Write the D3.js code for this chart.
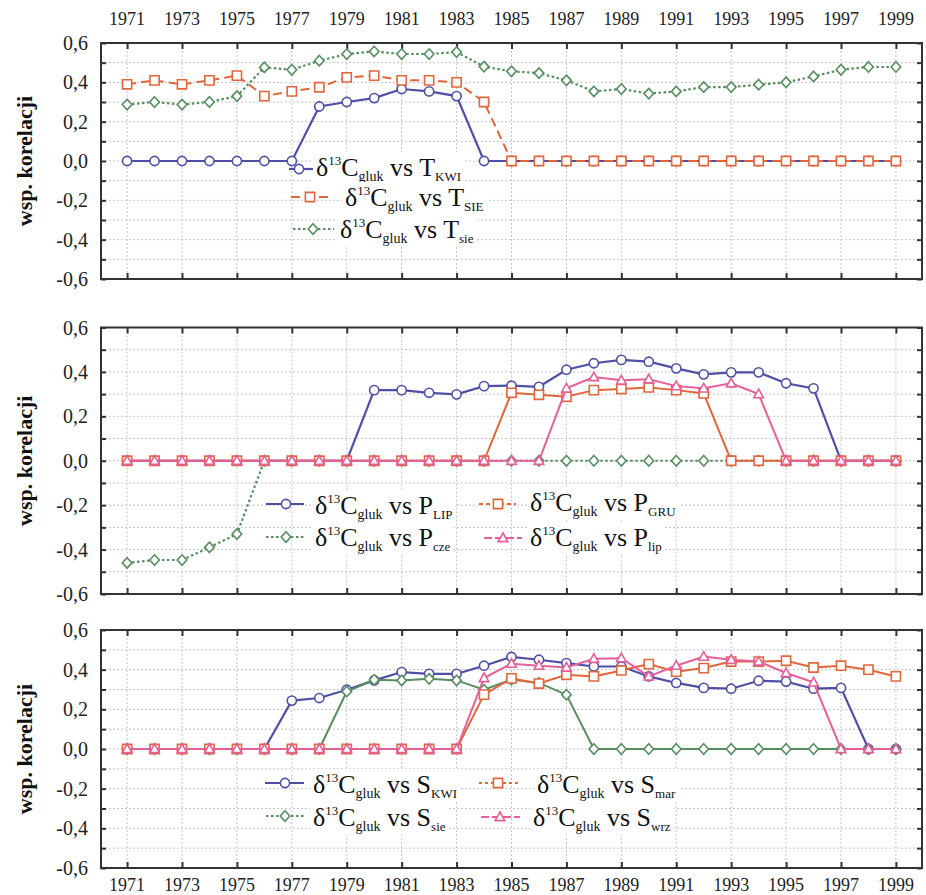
<!DOCTYPE html>
<html>
<head>
<meta charset="utf-8">
<script src="https://cdn.jsdelivr.net/npm/d3@7"></script>
<style>
  body { margin: 0; background: #fff; }
  svg text { font-family: "Liberation Serif", Tinos, "Times New Roman", "DejaVu Serif", serif; }
</style>
</head>
<body>
<svg id="chart" width="926" height="895"></svg>
<script>
// years on the x axis
var years = d3.range(1971, 2000);
var xTickYears = d3.range(1971, 2000, 2);
var yTicks = [-0.6, -0.4, -0.2, 0.0, 0.2, 0.4, 0.6];
var yGrid = d3.range(-6, 7).map(function (d) { return d / 10; });

// panel 1 - temperature
var tKWI = [0, 0, 0, 0, 0, 0, 0, 0.277, 0.30, 0.32, 0.366, 0.354, 0.33, 0,
  0, 0, 0, 0, 0, 0, 0, 0, 0, 0, 0, 0, 0, 0, 0];
var tSIE = [0.39, 0.41, 0.39, 0.41, 0.434, 0.33, 0.354, 0.375, 0.425, 0.434, 0.41, 0.41, 0.40, 0.30,
  0, 0, 0, 0, 0, 0, 0, 0, 0, 0, 0, 0, 0, 0, 0];
var tSie = [0.287, 0.30, 0.287, 0.30, 0.33, 0.476, 0.464, 0.51, 0.544, 0.557, 0.544, 0.544, 0.554, 0.48,
  0.456, 0.447, 0.41, 0.354, 0.366, 0.343, 0.354, 0.376, 0.376, 0.388, 0.40, 0.43, 0.464, 0.478, 0.478];

// panel 2 - precipitation
var pLIP = [0, 0, 0, 0, 0, 0, 0, 0, 0, 0.318, 0.318, 0.306, 0.299, 0.336,
  0.338, 0.333, 0.41, 0.439, 0.454, 0.446, 0.416, 0.389, 0.398, 0.398, 0.349, 0.326, 0, 0, 0];
var pCze = [-0.46, -0.447, -0.447, -0.39, -0.33, 0, 0, 0, 0, 0, 0, 0, 0, 0,
  0, 0, 0, 0, 0, 0, 0, 0, 0, 0, 0, 0, 0, 0, 0];
var pGRU = [0, 0, 0, 0, 0, 0, 0, 0, 0, 0, 0, 0, 0, 0,
  0.306, 0.297, 0.288, 0.318, 0.323, 0.33, 0.318, 0.303, 0, 0, 0, 0, 0, 0, 0];
var pLip = [0, 0, 0, 0, 0, 0, 0, 0, 0, 0, 0, 0, 0, 0,
  0, 0, 0.326, 0.377, 0.362, 0.367, 0.336, 0.326, 0.349, 0.30, 0, 0, 0, 0, 0];

// panel 3 - sunshine
var sKWI = [0, 0, 0, 0, 0, 0, 0.244, 0.257, 0.299, 0.346, 0.388, 0.379, 0.379, 0.42,
  0.464, 0.45, 0.433, 0.416, 0.416, 0.366, 0.333, 0.308, 0.304, 0.344, 0.34, 0.304, 0.308, 0, 0];
var sSie = [0, 0, 0, 0, 0, 0, 0, 0, 0.29, 0.349, 0.346, 0.354, 0.346, 0.299,
  0.35, 0.333, 0.274, 0, 0, 0, 0, 0, 0, 0, 0, 0, 0, 0, 0];
var sMar = [0, 0, 0, 0, 0, 0, 0, 0, 0, 0, 0, 0, 0, 0.274,
  0.356, 0.33, 0.374, 0.366, 0.396, 0.428, 0.39, 0.408, 0.441, 0.441, 0.445, 0.411, 0.42, 0.40, 0.366];
var sWrz = [0, 0, 0, 0, 0, 0, 0, 0, 0, 0, 0, 0, 0, 0.358,
  0.43, 0.42, 0.411, 0.455, 0.458, 0.366, 0.42, 0.466, 0.45, 0.441, 0.383, 0.336, 0, 0, 0];

var BLUE = "#4f4fa6", ORANGE = "#e2663c", GREEN = "#568e5f", PINK = "#e5609b";

var svg = d3.select("#chart");
var x = d3.scaleLinear().domain([1970.05, 1999.95]).range([101, 922]);

var panels = [
  { top: 43, bottom: 279, series: [
      { v: tKWI, c: BLUE, m: "circle", w: 2.2, dash: null },
      { v: tSie, c: GREEN, m: "diamond", w: 2.2, dash: "2.5,2.5" },
      { v: tSIE, c: ORANGE, m: "square", w: 2, dash: "9,5" }
    ],
    legend: [
      { s: 0, lx: [289, 313], mx: 299, my: 169, tx: 316, ty: 176, sym: "T", sub: "KWI" },
      { s: 2, lx: [291, 331], mx: 310, my: 197, tx: 345, ty: 206, sym: "T", sub: "SIE" },
      { s: 1, lx: [293, 334], mx: 313, my: 229, tx: 340, ty: 238, sym: "T", sub: "sie" }
    ] },
  { top: 327.5, bottom: 594, series: [
      { v: pLIP, c: BLUE, m: "circle", w: 2.2, dash: null },
      { v: pCze, c: GREEN, m: "diamond", w: 2.2, dash: "2.5,2.5" },
      { v: pGRU, c: ORANGE, m: "square", w: 2, dash: null },
      { v: pLip, c: PINK, m: "triangle", w: 2, dash: null }
    ],
    legend: [
      { s: 0, lx: [266, 304], mx: 286, my: 504, tx: 315, ty: 514, sym: "P", sub: "LIP" },
      { s: 1, lx: [266, 304], mx: 286, my: 537, tx: 315, ty: 546, sym: "P", sub: "cze" },
      { s: 2, lx: [479, 516], mx: 498, my: 504, tx: 530, ty: 511, sym: "P", sub: "GRU", ldash: "4,3" },
      { s: 3, lx: [484, 522], mx: 503, my: 538, tx: 530, ty: 546, sym: "P", sub: "lip", ldash: "8,3" }
    ] },
  { top: 630, bottom: 868, series: [
      { v: sKWI, c: BLUE, m: "circle", w: 2.2, dash: null },
      { v: sSie, c: GREEN, m: "diamond", w: 2, dash: null },
      { v: sMar, c: ORANGE, m: "square", w: 2, dash: null },
      { v: sWrz, c: PINK, m: "triangle", w: 2, dash: null }
    ],
    legend: [
      { s: 0, lx: [265, 304], mx: 285, my: 783, tx: 313, ty: 793, sym: "S", sub: "KWI" },
      { s: 1, lx: [266, 304], mx: 285, my: 816, tx: 313, ty: 826, sym: "S", sub: "sie", ldash: "2.5,2.5" },
      { s: 2, lx: [479, 518], mx: 498, my: 783, tx: 537, ty: 793, sym: "S", sub: "mar", ldash: "3,3" },
      { s: 3, lx: [481, 520], mx: 500, my: 817, tx: 533, ty: 826, sym: "S", sub: "wrz", ldash: "8,3" }
    ] }
];

function marker(g, type, cx, cy, color) {
  var p;
  if (type === "circle") {
    g.append("circle").attr("cx", cx).attr("cy", cy).attr("r", 4.6)
      .attr("fill", "#fff").attr("stroke", color).attr("stroke-width", 1.6);
    return;
  }
  if (type === "square") p = d3.path(), p.rect(cx - 4.6, cy - 4.6, 9.2, 9.2);
  if (type === "diamond") {
    p = d3.path();
    p.moveTo(cx, cy - 5.2); p.lineTo(cx + 4.8, cy); p.lineTo(cx, cy + 5.2); p.lineTo(cx - 4.8, cy); p.closePath();
  }
  if (type === "triangle") {
    p = d3.path();
    p.moveTo(cx, cy - 5); p.lineTo(cx + 4.8, cy + 3.6); p.lineTo(cx - 4.8, cy + 3.6); p.closePath();
  }
  g.append("path").attr("d", p.toString()).attr("fill", "#fff")
    .attr("stroke", color).attr("stroke-width", 1.6);
}

panels.forEach(function (pn, pi) {
  var y = d3.scaleLinear().domain([-0.6, 0.6]).range([pn.bottom, pn.top]);
  var g = svg.append("g");

  // grid
  g.selectAll(".hg").data(yGrid.slice(1, -1)).enter().append("line")
    .attr("x1", x.range()[0]).attr("x2", x.range()[1])
    .attr("y1", d => y(d)).attr("y2", d => y(d))
    .attr("stroke", "#c4c4c4").attr("stroke-width", 1).attr("stroke-dasharray", "2,2");
  g.selectAll(".vg").data(xTickYears).enter().append("line")
    .attr("x1", d => x(d)).attr("x2", d => x(d))
    .attr("y1", pn.top).attr("y2", pn.bottom)
    .attr("stroke", "#c4c4c4").attr("stroke-width", 1).attr("stroke-dasharray", "2,2");

  // axes with inward ticks
  var axL = d3.axisLeft(y).tickValues(yGrid).tickSize(-5).tickFormat("");
  var axR = d3.axisRight(y).tickValues(yGrid).tickSize(-5).tickFormat("");
  var axT = d3.axisTop(x).tickValues(xTickYears).tickSize(-6).tickFormat("");
  var axB = d3.axisBottom(x).tickValues(xTickYears).tickSize(-6).tickFormat("");
  [[axL, "translate(" + x.range()[0] + ",0)"], [axR, "translate(" + x.range()[1] + ",0)"],
   [axT, "translate(0," + pn.top + ")"], [axB, "translate(0," + pn.bottom + ")"]].forEach(function (a) {
    var ag = g.append("g").attr("transform", a[1]).call(a[0]);
    ag.attr("font-family", null);
    ag.select(".domain").remove();
    ag.selectAll("line").attr("stroke", "#333").attr("stroke-width", 2);
  });

  // y tick labels
  g.selectAll(".yl").data(yTicks).enter().append("text")
    .attr("x", 88).attr("y", d => y(d)).attr("dy", "0.35em")
    .attr("text-anchor", "end").attr("font-size", 20).attr("fill", "#222")
    .text(d => d.toFixed(1).replace(".", ","));

  // y title
  g.append("text")
    .attr("transform", "translate(32," + ((pn.top + pn.bottom) / 2) + ") rotate(-90)")
    .attr("text-anchor", "middle").attr("font-size", 22).attr("font-weight", "bold")
    .attr("fill", "#111").text("wsp. korelacji");

  // series
  var line = d3.line().x((d, i) => x(years[i])).y(d => y(d));
  pn.series.forEach(function (s) {
    g.append("path").datum(s.v).attr("d", line).attr("fill", "none")
      .attr("stroke", s.c).attr("stroke-width", s.w)
      .attr("stroke-dasharray", s.dash);
    s.v.forEach(function (v, i) { marker(g, s.m, x(years[i]), y(v), s.c); });
  });

  // legend
  pn.legend.forEach(function (L) {
    var s = pn.series[L.s];
    var t = g.append("text").attr("x", L.tx).attr("y", L.ty).attr("font-size", 26).attr("fill", "#111");
    t.append("tspan").text("\u03b4");
    t.append("tspan").attr("font-size", 13).attr("dy", -11).text("13");
    t.append("tspan").attr("dy", 11).text("C");
    t.append("tspan").attr("font-size", 14).attr("dy", 5).text("gluk");
    t.append("tspan").attr("dy", -5).text(" vs " + L.sym);
    t.append("tspan").attr("font-size", 13).attr("dy", 5).text(L.sub);
    var bb = t.node().getBBox();
    g.insert("rect", function () { return t.node(); })
      .attr("x", bb.x - 3).attr("y", bb.y - 1).attr("width", bb.width + 6).attr("height", bb.height + 2)
      .attr("fill", "#fff");
    g.append("line").attr("x1", L.lx[0]).attr("x2", L.lx[1]).attr("y1", L.my).attr("y2", L.my)
      .attr("stroke", s.c).attr("stroke-width", s.w)
      .attr("stroke-dasharray", L.ldash || s.dash);
    marker(g, s.m, L.mx, L.my, s.c);
  });
});

// x tick labels top and bottom
svg.selectAll(".xt").data(xTickYears).enter().append("text")
  .attr("x", d => x(d)).attr("y", 25).attr("text-anchor", "middle")
  .attr("font-size", 18).attr("fill", "#222").text(d => d);
svg.selectAll(".xb").data(xTickYears).enter().append("text")
  .attr("x", d => x(d)).attr("y", 891).attr("text-anchor", "middle")
  .attr("font-size", 18).attr("fill", "#222").text(d => d);

// plot frames
panels.forEach(function (pn) {
  svg.append("rect").attr("x", x.range()[0]).attr("y", pn.top)
    .attr("width", x.range()[1] - x.range()[0]).attr("height", pn.bottom - pn.top)
    .attr("fill", "none").attr("stroke", "#333").attr("stroke-width", 2);
});
</script>
</body>
</html>
